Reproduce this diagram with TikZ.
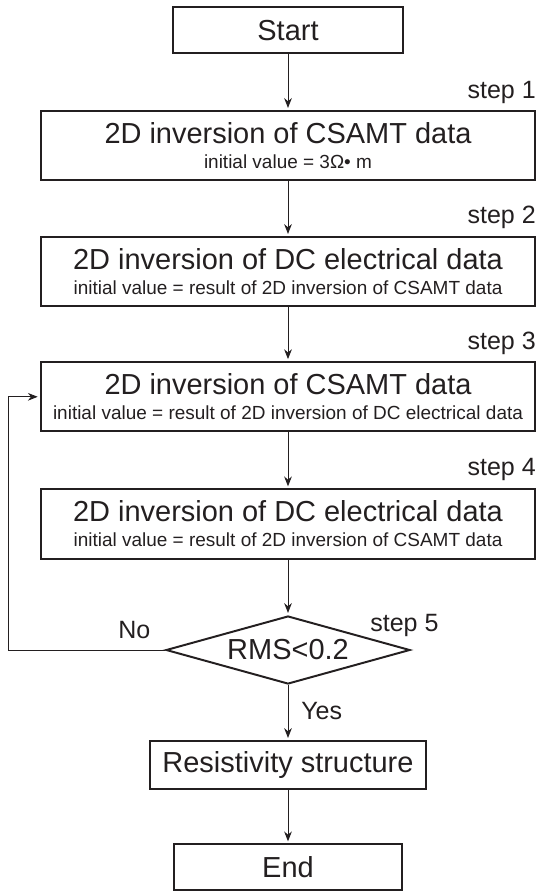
\documentclass[tikz,border=0pt]{standalone}
\usepackage{fontspec}
\setmainfont{Liberation Sans}
\usetikzlibrary{shapes.geometric,arrows.meta}
\definecolor{ink}{RGB}{35,31,32}
\newcommand{\bigtxt}{\fontsize{20.6pt}{24pt}\selectfont}
\newcommand{\smalltxt}{\fontsize{13.5pt}{16pt}\selectfont}
\newcommand{\steptxt}{\fontsize{17.8pt}{21pt}\selectfont}
\begin{document}
\begin{tikzpicture}[every node/.style={text=ink},
  box/.style={rectangle,draw=ink,line width=1.4pt,inner sep=0pt,font=\bigtxt},
  wide/.style={box,minimum width=12.36cm,minimum height=1.73cm,align=center},
  small/.style={box,minimum width=5.75cm,minimum height=1.15cm},
  test/.style={diamond,draw=ink,line width=1.4pt,aspect=3.6,inner sep=0pt,minimum width=6.1cm,minimum height=1.7cm,font=\bigtxt},
  flow/.style={draw=ink,line width=0.7pt,shorten >=1.5pt,-{Stealth[length=7pt,width=5.5pt]}},
  steplbl/.style={font=\steptxt,inner sep=0pt,anchor=base east},
  note/.style={font=\steptxt,inner sep=0pt,anchor=base west}]
\useasboundingbox (0,0) rectangle (13.4,-22.275);
\node[small] (start) at (7.2,-0.76) {Start};
\node[wide] (s1) at (7.2,-3.64) {2D inversion of CSAMT data\\[-6.2pt]{\smalltxt initial value = 3Ω• m}};
\node[wide] (s2) at (7.2,-6.79) {2D inversion of DC electrical data\\[-6.2pt]{\smalltxt initial value = result of 2D inversion of CSAMT data}};
\node[wide] (s3) at (7.2,-9.92) {2D inversion of CSAMT data\\[-6.2pt]{\smalltxt initial value = result of 2D inversion of DC electrical data}};
\node[wide] (s4) at (7.2,-13.1) {2D inversion of DC electrical data\\[-6.2pt]{\smalltxt initial value = result of 2D inversion of CSAMT data}};
\node[test] (rms) at (7.2,-16.25) {RMS<0.2};
\node[box,minimum width=6.92cm,minimum height=1.19cm] (res) at (7.2,-19.12) {Resistivity structure};
\node[small,minimum width=5.7cm,minimum height=1.14cm] (end) at (7.2,-21.68) {End};
% step labels
\node[steplbl] (l1) at (13.4,-2.45) {step 1};
\node[steplbl] (l2) at (13.4,-5.59) {step 2};
\node[steplbl] (l3) at (13.4,-8.74) {step 3};
\node[steplbl] (l4) at (13.4,-11.875) {step 4};
\node[note] (l5) at (9.25,-15.79) {step 5};
\node[note] (no) at (2.95,-15.95) {No};
\node[note] (yes) at (7.525,-17.98) {Yes};
% connectors
\draw[flow] (start) -- (s1);
\draw[flow] (s1) -- (s2);
\draw[flow] (s2) -- (s3);
\draw[flow] (s3) -- (s4);
\draw[flow] (s4) -- (rms);
\draw[flow] (rms) -- (res);
\draw[flow] (res) -- (end);
\coordinate (back) at (0.21,-16.25);
\draw[flow] (rms.west) -- (back) |- (s3.west);
\end{tikzpicture}
\end{document}
